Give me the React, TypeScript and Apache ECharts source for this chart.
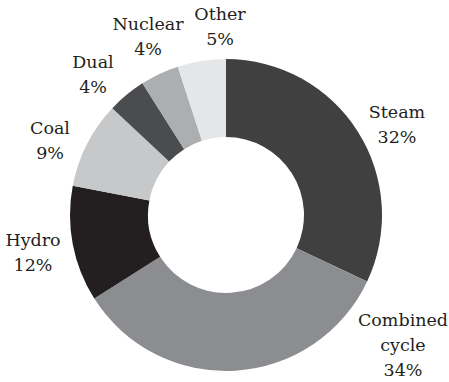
import React, { useEffect, useRef } from "react";
import * as echarts from "echarts";

// Share of installed capacity by plant type, clockwise from 12 o'clock
const categories = ["Steam", "Combined cycle", "Hydro", "Coal", "Dual", "Nuclear", "Other"];
const shares = [32, 34, 12, 9, 4, 4, 5];
const sliceColors = ["#404041", "#8c8d90", "#231f20", "#c7c8ca", "#4b4c4e", "#adaeb0", "#e5e6e7"];
// Anchor (centre of the text block) for each category label
const labelAnchors: [number, number][] = [
  [397, 124],
  [403, 345],
  [33, 252],
  [50, 140],
  [93, 74],
  [148, 36],
  [220, 26],
];

const SERIF = "DejaVu Serif";
const LABEL_SIZE = 17.5;

export default function App() {
  const ref = useRef<HTMLDivElement>(null);

  useEffect(() => {
    if (!ref.current) return;
    const chart = echarts.init(ref.current, undefined, { renderer: "svg" });
    chart.setOption({
      animation: false,
      backgroundColor: "#ffffff",
      textStyle: { fontFamily: SERIF },
      series: [
        {
          type: "pie",
          center: [226, 215],
          radius: [78, 156],
          startAngle: 90,
          clockwise: true,
          avoidLabelOverlap: false,
          itemStyle: { borderWidth: 0 },
          label: {
            show: true,
            position: "outside",
            color: "#231f20",
            fontFamily: SERIF,
            fontSize: LABEL_SIZE,
            lineHeight: 25,
            align: "center",
            formatter: (p: any) => `{t|${p.name.replace(" ", "\n")}\n${p.value}%}`,
            rich: {
              t: { fontFamily: SERIF, fontSize: LABEL_SIZE, lineHeight: 25, color: "#231f20", align: "center" },
            },
          },
          labelLine: { show: false },
          labelLayout: (p: any) => {
            const [x, y] = labelAnchors[p.dataIndex];
            return { x, y, align: "center", verticalAlign: "middle" };
          },
          emphasis: { disabled: true },
          data: categories.map((name, i) => ({
            name,
            value: shares[i],
            itemStyle: { color: sliceColors[i] },
          })),
        },
      ],
    });
    return () => chart.dispose();
  }, []);

  return (
    <div
      ref={ref}
      style={{ position: "fixed", left: 0, top: 0, width: 449, height: 382 }}
    />
  );
}
